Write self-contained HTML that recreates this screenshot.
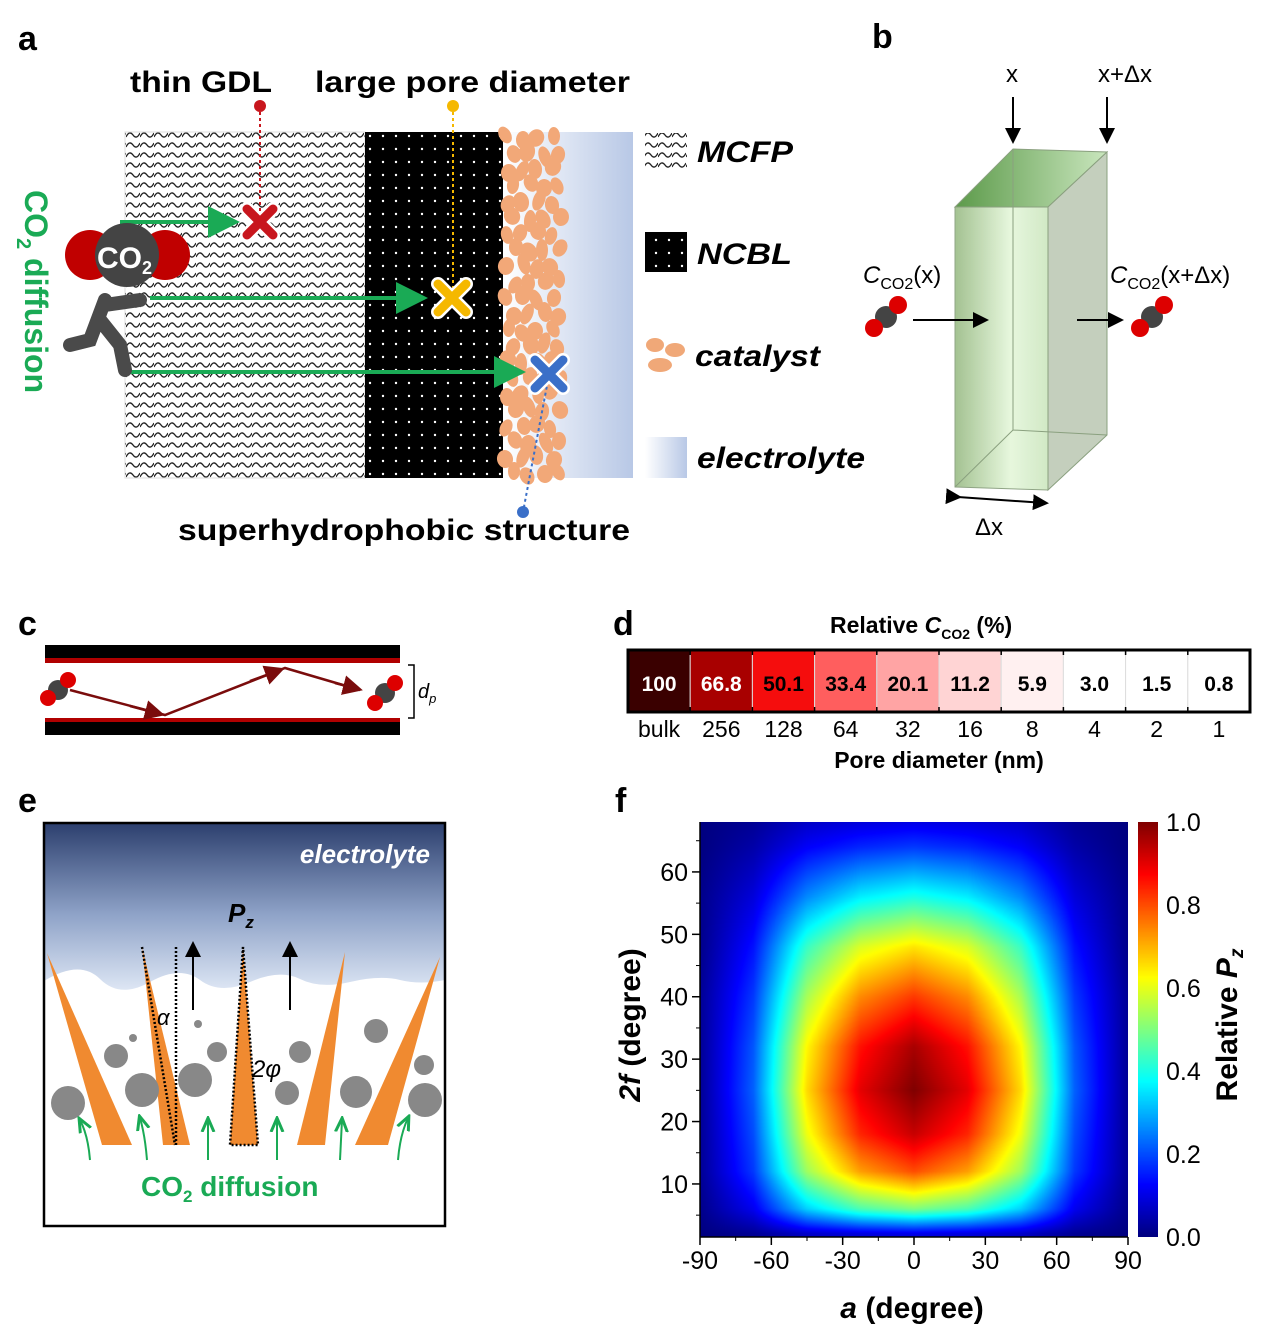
<!DOCTYPE html>
<html><head><meta charset="utf-8"><style>
html,body{margin:0;padding:0;background:#fff}
svg{display:block;font-family:"Liberation Sans",Arial,sans-serif}
</style></head><body>
<svg id="fig" width="1273" height="1342" viewBox="0 0 1273 1342" xmlns="http://www.w3.org/2000/svg">
<defs>
<pattern id="mesh" width="14" height="10" patternUnits="userSpaceOnUse">
<path d="M0 7 Q3.5 0 7 5 Q10.5 10 14 3" fill="none" stroke="#222" stroke-width="1.3"/>
</pattern>
<pattern id="dots" width="13" height="13" patternUnits="userSpaceOnUse">
<rect width="13" height="13" fill="#000"/><circle cx="6" cy="6" r="1.2" fill="#fff"/>
</pattern>
<linearGradient id="elec" x1="0" x2="1"><stop offset="0" stop-color="#fff"/><stop offset="1" stop-color="#b8c8e6"/></linearGradient>
<linearGradient id="egrad" x1="0" y1="0" x2="0" y2="1"><stop offset="0" stop-color="#2c3f6e"/><stop offset="0.55" stop-color="#8fa3c8"/><stop offset="1" stop-color="#dde6f4"/></linearGradient>
<linearGradient id="front" x1="0" x2="1"><stop offset="0" stop-color="#9fbf8c"/><stop offset="0.6" stop-color="#e6f7dc"/><stop offset="1" stop-color="#cfe8c3"/></linearGradient>
<linearGradient id="top" x1="0" x2="1"><stop offset="0" stop-color="#5c9a4a"/><stop offset="1" stop-color="#c9e6bd"/></linearGradient>
<marker id="gh" markerWidth="8" markerHeight="8" refX="6" refY="4" orient="auto"><path d="M0 0 L8 4 L0 8 z" fill="#1aaa55"/></marker>
<marker id="kh" markerWidth="8" markerHeight="8" refX="6" refY="4" orient="auto"><path d="M0 0 L8 4 L0 8 z" fill="#000"/></marker>
<marker id="rh" markerWidth="8" markerHeight="8" refX="6" refY="4" orient="auto"><path d="M0 0 L8 4 L0 8 z" fill="#7a0c0c"/></marker>
<marker id="ah" markerWidth="8" markerHeight="8" refX="6" refY="4" orient="auto"><path d="M0 1 L7 4 L0 7" fill="none" stroke="#1aaa55" stroke-width="1.5"/></marker>
</defs>

<!-- Panel a -->
<g>
<text x="18" y="50" font-size="34" font-weight="bold">a</text>
<text x="130" y="92" font-size="30" font-weight="bold" textLength="142" lengthAdjust="spacingAndGlyphs">thin GDL</text>
<text x="315" y="92" font-size="30" font-weight="bold" textLength="315" lengthAdjust="spacingAndGlyphs">large pore diameter</text>
<rect x="125" y="132" width="240" height="346" fill="url(#mesh)" stroke="#ddd"/>
<rect x="365" y="132" width="138" height="346" fill="url(#dots)"/>
<rect x="503" y="132" width="130" height="346" fill="url(#elec)"/>
<g id="flakes" fill="#f2a878"></g>
<line x1="260" y1="106" x2="260" y2="222" stroke="#c8161d" stroke-width="2" stroke-dasharray="3 3"/><circle cx="260" cy="106" r="6" fill="#c8161d"/>
<line x1="453" y1="106" x2="453" y2="298" stroke="#f5b800" stroke-width="2" stroke-dasharray="3 3"/><circle cx="453" cy="106" r="6" fill="#f5b800"/>
<line x1="549" y1="375" x2="523" y2="512" stroke="#3a6fc8" stroke-width="2" stroke-dasharray="3 3"/><circle cx="523" cy="512" r="6" fill="#3a6fc8"/>
<line x1="120" y1="222" x2="232" y2="222" stroke="#1aaa55" stroke-width="4" marker-end="url(#gh)"/>
<line x1="150" y1="298" x2="420" y2="298" stroke="#1aaa55" stroke-width="4" marker-end="url(#gh)"/>
<line x1="125" y1="372" x2="518" y2="372" stroke="#1aaa55" stroke-width="4" marker-end="url(#gh)"/>
<g stroke-linecap="round">
<path d="M247 209 L273 235 M273 209 L247 235" stroke="#fff" stroke-width="14"/><path d="M247 209 L273 235 M273 209 L247 235" stroke="#c8161d" stroke-width="9"/>
<path d="M438 284 L466 312 M466 284 L438 312" stroke="#fff" stroke-width="14"/><path d="M438 284 L466 312 M466 284 L438 312" stroke="#f5b800" stroke-width="9"/>
<path d="M535 360 L563 388 M563 360 L535 388" stroke="#fff" stroke-width="14"/><path d="M535 360 L563 388 M563 360 L535 388" stroke="#3a6fc8" stroke-width="9"/>
</g>
<g>
<path d="M105 300 L90 340 L70 345 M100 320 L120 345 L125 370 M105 305 L140 300" stroke="#4a4a4a" stroke-width="14" fill="none" stroke-linecap="round"/>
<circle cx="90" cy="255" r="25" fill="#c00000"/><circle cx="165" cy="255" r="25" fill="#c00000"/><circle cx="127" cy="255" r="32" fill="#444"/>
<text x="97" y="268" font-size="30" font-weight="bold" fill="#fff">CO<tspan font-size="18" dy="6">2</tspan></text>
</g>
<text transform="translate(25,190) rotate(90)" font-size="32" font-weight="bold" fill="#1aaa55">CO<tspan font-size="20" dy="8">2</tspan><tspan dy="-8"> diffusion</tspan></text>
<text x="178" y="540" font-size="30" font-weight="bold" textLength="452" lengthAdjust="spacingAndGlyphs">superhydrophobic structure</text>
<g>
<rect x="645" y="133" width="42" height="37" fill="url(#mesh)"/><text x="697" y="162" font-size="30" font-weight="bold" font-style="italic" textLength="96" lengthAdjust="spacingAndGlyphs">MCFP</text>
<rect x="645" y="232" width="42" height="40" fill="url(#dots)"/><text x="697" y="264" font-size="30" font-weight="bold" font-style="italic" textLength="95" lengthAdjust="spacingAndGlyphs">NCBL</text>
<g fill="#f0a878"><ellipse cx="655" cy="345" rx="9" ry="7"/><ellipse cx="675" cy="350" rx="10" ry="7"/><ellipse cx="660" cy="365" rx="12" ry="7"/></g><text x="695" y="366" font-size="30" font-weight="bold" font-style="italic" textLength="125" lengthAdjust="spacingAndGlyphs">catalyst</text>
<rect x="645" y="437" width="42" height="41" fill="url(#elec)"/><text x="697" y="468" font-size="30" font-weight="bold" font-style="italic" textLength="168" lengthAdjust="spacingAndGlyphs">electrolyte</text>
</g>
</g>

<!-- Panel b -->
<g>
<text x="872" y="48" font-size="34" font-weight="bold">b</text>
<text x="1006" y="82" font-size="24">x</text>
<text x="1098" y="82" font-size="24">x+Δx</text>
<line x1="1013" y1="97" x2="1013" y2="140" stroke="#000" stroke-width="2" marker-end="url(#kh)"/>
<line x1="1107" y1="97" x2="1107" y2="140" stroke="#000" stroke-width="2" marker-end="url(#kh)"/>
<polygon points="955,207 1013,149 1107,152 1048,207" fill="url(#top)" stroke="#8aa07f"/>
<polygon points="1048,207 1107,152 1107,435 1048,490" fill="#c4cfbd" stroke="#8aa07f"/>
<polygon points="955,207 1048,207 1048,490 955,487" fill="url(#front)" stroke="#8aa07f" opacity="0.95"/>
<path d="M1013 149 L1013 430 L1107 435 M1013 430 L955 487" fill="none" stroke="#8aa07f"/>
<line x1="958" y1="497" x2="1045" y2="503" stroke="#000" stroke-width="2" marker-end="url(#kh)" marker-start="url(#kh)"/>
<text x="975" y="535" font-size="24">Δx</text>
<text x="863" y="283" font-size="24"><tspan font-style="italic">C</tspan><tspan font-size="16" dy="6">CO2</tspan><tspan dy="-6">(x)</tspan></text>
<text x="1110" y="283" font-size="24"><tspan font-style="italic">C</tspan><tspan font-size="16" dy="6">CO2</tspan><tspan dy="-6">(x+Δx)</tspan></text>
<line x1="913" y1="320" x2="985" y2="320" stroke="#000" stroke-width="2" marker-end="url(#kh)"/>
<line x1="1077" y1="320" x2="1120" y2="320" stroke="#000" stroke-width="2" marker-end="url(#kh)"/>
<g><circle cx="886" cy="317" r="11" fill="#444"/><circle cx="874" cy="328" r="9" fill="#d00"/><circle cx="898" cy="305" r="9" fill="#d00"/></g>
<g><circle cx="1152" cy="317" r="11" fill="#444"/><circle cx="1140" cy="328" r="9" fill="#d00"/><circle cx="1164" cy="305" r="9" fill="#d00"/></g>
</g>

<!-- Panel c -->
<g>
<text x="18" y="635" font-size="34" font-weight="bold">c</text>
<rect x="45" y="645" width="355" height="13" fill="#000"/><rect x="45" y="658" width="355" height="5" fill="#b00000"/>
<rect x="45" y="718" width="355" height="4" fill="#b00000"/><rect x="45" y="722" width="355" height="13" fill="#000"/>
<path d="M70 690 L165 715 L285 668 L360 690" fill="none" stroke="#7a0c0c" stroke-width="2.5"/>
<line x1="130" y1="706" x2="160" y2="714" stroke="#7a0c0c" stroke-width="2.5" marker-end="url(#rh)"/>
<line x1="250" y1="681" x2="280" y2="670" stroke="#7a0c0c" stroke-width="2.5" marker-end="url(#rh)"/>
<line x1="335" y1="683" x2="358" y2="689" stroke="#7a0c0c" stroke-width="2.5" marker-end="url(#rh)"/>
<g><circle cx="58" cy="690" r="10" fill="#444"/><circle cx="48" cy="698" r="8" fill="#d00"/><circle cx="68" cy="680" r="8" fill="#d00"/></g>
<g><circle cx="385" cy="693" r="10" fill="#444"/><circle cx="375" cy="703" r="8" fill="#d00"/><circle cx="395" cy="683" r="8" fill="#d00"/></g>
<path d="M408 665 L414 665 L414 718 L408 718" fill="none" stroke="#000" stroke-width="1.5"/>
<text x="418" y="698" font-size="20" font-style="italic">d<tspan font-size="13" dy="5">p</tspan></text>
</g>

<!-- Panel d -->
<g id="pd">
<text x="613" y="635" font-size="34" font-weight="bold">d</text>
<text x="830" y="633" font-size="23" font-weight="bold">Relative <tspan font-style="italic">C</tspan><tspan font-size="14" dy="6">CO2</tspan><tspan dy="-6"> (%)</tspan></text>
<g id="dcells"></g>
<rect x="628" y="650" width="622" height="62" fill="none" stroke="#000" stroke-width="3"/>
<g id="dlabels"></g>
<text x="939" y="768" font-size="23" font-weight="bold" text-anchor="middle">Pore diameter (nm)</text>
</g>

<!-- Panel e -->
<g>
<text x="18" y="812" font-size="34" font-weight="bold">e</text>
<rect x="44" y="823" width="401" height="403" fill="#fff"/>
<path d="M44 823 H445 V980 Q420 985 400 980 T350 982 T300 979 T250 982 T200 980 T150 982 T100 979 T44 981 Z" fill="url(#egrad)"/>
<text x="430" y="863" font-size="26" font-weight="bold" font-style="italic" fill="#fff" text-anchor="end">electrolyte</text>
<g fill="#f08a30">
<polygon points="47,953 102,1145 132,1145"/>
<polygon points="142,947 163,1145 190,1145"/>
<polygon points="243,947 230,1145 258,1145"/>
<polygon points="345,952 297,1145 325,1145"/>
<polygon points="440,957 355,1145 388,1145"/>
</g>
<path d="M142 947 L175 1145 M176 947 L176 1145 M243 947 L230 1145 L258 1145 Z" fill="none" stroke="#000" stroke-width="2.5" stroke-dasharray="2 2"/>
<g fill="#888">
<circle cx="68" cy="1103" r="17"/><circle cx="142" cy="1090" r="17"/><circle cx="195" cy="1080" r="17"/><circle cx="116" cy="1056" r="12"/>
<circle cx="217" cy="1052" r="10"/><circle cx="287" cy="1093" r="12"/><circle cx="300" cy="1052" r="11"/><circle cx="356" cy="1092" r="16"/>
<circle cx="376" cy="1031" r="12"/><circle cx="425" cy="1100" r="17"/><circle cx="424" cy="1065" r="10"/><circle cx="133" cy="1038" r="4"/><circle cx="198" cy="1024" r="4"/>
</g>
<line x1="193" y1="1010" x2="193" y2="945" stroke="#000" stroke-width="2" marker-end="url(#kh)"/>
<line x1="290" y1="1010" x2="290" y2="945" stroke="#000" stroke-width="2" marker-end="url(#kh)"/>
<text x="228" y="922" font-size="26" font-weight="bold" font-style="italic">P<tspan font-size="17" dy="6">z</tspan></text>
<text x="157" y="1025" font-size="22" font-style="italic">α</text>
<text x="252" y="1077" font-size="24" font-style="italic">2φ</text>
<g fill="none" stroke="#1aaa55" stroke-width="2">
<path d="M90 1160 Q88 1135 80 1120" marker-end="url(#ah)"/><path d="M147 1160 Q145 1135 140 1118" marker-end="url(#ah)"/>
<path d="M208 1160 L208 1120" marker-end="url(#ah)"/><path d="M277 1160 L277 1120" marker-end="url(#ah)"/>
<path d="M340 1160 L342 1120" marker-end="url(#ah)"/><path d="M398 1160 Q400 1135 408 1118" marker-end="url(#ah)"/>
</g>
<text x="141" y="1196" font-size="28" font-weight="bold" fill="#1aaa55">CO<tspan font-size="17" dy="6">2</tspan><tspan dy="-6"> diffusion</tspan></text>
<rect x="44" y="823" width="401" height="403" fill="none" stroke="#000" stroke-width="2.5"/>
</g>

<!-- Panel f -->
<g>
<text x="615" y="812" font-size="34" font-weight="bold">f</text>
<foreignObject x="700" y="822" width="428" height="415"><canvas xmlns="http://www.w3.org/1999/xhtml" id="hm" width="428" height="415" style="display:block"></canvas></foreignObject>
<foreignObject x="1138" y="822" width="20" height="415"><canvas xmlns="http://www.w3.org/1999/xhtml" id="cb" width="20" height="415" style="display:block"></canvas></foreignObject>
<g id="faxes" font-size="25"></g>
<text x="912" y="1318" font-size="30" font-weight="bold" text-anchor="middle"><tspan font-style="italic">a</tspan> (degree)</text>
<text transform="translate(640,1025) rotate(-90)" font-size="30" font-weight="bold" text-anchor="middle"><tspan font-style="italic">2f</tspan>  (degree)</text>
<text transform="translate(1237,1025) rotate(-90)" font-size="30" font-weight="bold" text-anchor="middle">Relative <tspan font-style="italic">P</tspan><tspan font-size="19" font-style="italic" dy="6">z</tspan></text>
</g>
</svg>
<script>
// Panel d data
const poreLabels=["bulk","256","128","64","32","16","8","4","2","1"];
const relC=[100,66.8,50.1,33.4,20.1,11.2,5.9,3.0,1.5,0.8];
const relCText=["100","66.8","50.1","33.4","20.1","11.2","5.9","3.0","1.5","0.8"];
// Panel f data
const alphas=[-90,-67.5,-45,-22.5,0,22.5,45,67.5,90];
const phis=[2,6,12,18,25,32,40,48,56,64,68];
const pz=[
[0.00,0.02,0.07,0.09,0.10,0.09,0.07,0.02,0.00],
[0.01,0.11,0.33,0.45,0.50,0.45,0.33,0.11,0.01],
[0.02,0.18,0.53,0.72,0.80,0.72,0.53,0.18,0.02],
[0.02,0.20,0.61,0.84,0.93,0.84,0.61,0.20,0.02],
[0.02,0.22,0.66,0.90,1.00,0.90,0.66,0.22,0.02],
[0.02,0.21,0.63,0.86,0.96,0.86,0.63,0.21,0.02],
[0.02,0.18,0.54,0.74,0.82,0.74,0.54,0.18,0.02],
[0.01,0.14,0.43,0.59,0.65,0.59,0.43,0.14,0.01],
[0.01,0.09,0.26,0.36,0.40,0.36,0.26,0.09,0.01],
[0.00,0.04,0.12,0.16,0.18,0.16,0.12,0.04,0.00],
[0.00,0.02,0.07,0.09,0.10,0.09,0.07,0.02,0.00]];
const xTicks=[-90,-60,-30,0,30,60,90];
const yTicks=[10,20,30,40,50,60];
const cbTicks=["0.0","0.2","0.4","0.6","0.8","1.0"];

const NS="http://www.w3.org/2000/svg";
function mk(tag,attrs,parent){const e=document.createElementNS(NS,tag);for(const k in attrs)e.setAttribute(k,attrs[k]);parent.appendChild(e);return e;}

// catalyst flakes (decorative)
const fl=document.getElementById('flakes');
for(let r=0;r<22;r++){for(let c=0;c<4;c++){
  const x=507+c*15+((r%2)?7:0)+((r*7+c*3)%5)-2, y=138+r*16+((r*3+c*5)%7)-3;
  if(x>568)continue;
  mk('ellipse',{cx:x,cy:y,rx:6+((r+c)%3),ry:9+((r*c)%3),transform:"rotate("+(((r*13+c*29)%60)-30)+" "+x+" "+y+")"},fl);
}}

// d strip
const dX0=628,dW=622,dY=650,dH=62;
const cw=dW/relC.length;
function redScale(v){
  if(v>=90) return "rgb(58,0,0)";
  if(v>=60){const r=Math.round(200-(v-60)/30*142);return "rgb("+r+",0,0)";}
  if(v>=48){const t=(v-48)/12;return "rgb("+Math.round(255-t*55)+","+Math.round(16*(1-t))+","+Math.round(16*(1-t))+")";}
  const g=Math.round(Math.min(255,16+255*(1-v/48)));
  return "rgb(255,"+g+","+g+")";
}
const dc=document.getElementById('dcells'),dl=document.getElementById('dlabels');
relC.forEach((v,i)=>{
  const r=mk('rect',{x:dX0+i*cw,y:dY,width:cw,height:dH,fill:redScale(v),stroke:"#ddd","stroke-width":1},dc);
  
  
  const t=mk('text',{x:dX0+(i+0.5)*cw,y:dY+41,"font-size":21,"font-weight":"bold","text-anchor":"middle",fill:v>60?"#fff":"#000"},dc);
  t.textContent=relCText[i];
  
  
  const l=mk('text',{x:dX0+(i+0.5)*cw,y:dY+87,"font-size":23,"text-anchor":"middle"},dl);
  l.textContent=poreLabels[i];
  
  
  if(i>0){mk('line',{x1:dX0+i*cw,y1:dY,x2:dX0+i*cw,y2:dY+5,stroke:"#000","stroke-width":1.5},dc);mk('line',{x1:dX0+i*cw,y1:dY+dH-5,x2:dX0+i*cw,y2:dY+dH,stroke:"#000","stroke-width":1.5},dc);}
});

// f axes
const fx0=700,fx1=1128,fy0=822,fy1=1237,aMin=-90,aMax=90,pMin=1.5,pMax=68;
const xs=a=>fx0+(a-aMin)/(aMax-aMin)*(fx1-fx0);
const ys=p=>fy1-(p-pMin)/(pMax-pMin)*(fy1-fy0);
function jet(v){v=Math.max(0,Math.min(1,v));
  const r=Math.max(0,Math.min(1,1.5-Math.abs(4*v-3)));
  const g=Math.max(0,Math.min(1,1.5-Math.abs(4*v-2)));
  const b=Math.max(0,Math.min(1,1.5-Math.abs(4*v-1)));
  return [r*255,g*255,b*255];}
function interp(arr,v){
  if(v<=arr[0])return 0; for(let i=0;i<arr.length-1;i++){if(v<=arr[i+1])return i+(v-arr[i])/(arr[i+1]-arr[i]);} return arr.length-1;}
function sample(a,p){
  const fi=interp(alphas,a),fj=interp(phis,p);
  const i0=Math.floor(fi),j0=Math.floor(fj),i1=Math.min(i0+1,alphas.length-1),j1=Math.min(j0+1,phis.length-1);
  const ti=fi-i0,tj=fj-j0;
  return (pz[j0][i0]*(1-ti)+pz[j0][i1]*ti)*(1-tj)+(pz[j1][i0]*(1-ti)+pz[j1][i1]*ti)*tj;}
const cv=document.getElementById('hm'),ctx=cv.getContext('2d');
const W=cv.width,H=cv.height,img=ctx.createImageData(W,H);
for(let y=0;y<H;y++){const p=pMax-(y+0.5)/H*(pMax-pMin);
  for(let x=0;x<W;x++){const a=aMin+(x+0.5)/W*(aMax-aMin);
    const c=jet(sample(a,p));const k=(y*W+x)*4;img.data[k]=c[0];img.data[k+1]=c[1];img.data[k+2]=c[2];img.data[k+3]=255;}}
ctx.putImageData(img,0,0);
const cb=document.getElementById('cb'),cc=cb.getContext('2d');
for(let y=0;y<cb.height;y++){const c=jet(1-y/(cb.height-1));cc.fillStyle="rgb("+c.map(Math.round).join(",")+")";cc.fillRect(0,y,20,1);}
const fa=document.getElementById('faxes');
mk('line',{x1:fx0,y1:fy1,x2:fx1,y2:fy1,stroke:"#000","stroke-width":1.5},fa);
mk('line',{x1:fx0,y1:fy0,x2:fx0,y2:fy1,stroke:"#000","stroke-width":1.5},fa);
xTicks.forEach(v=>{const x=xs(v);mk('line',{x1:x,y1:fy1,x2:x,y2:fy1+8,stroke:"#000","stroke-width":1.5},fa);
  const t=mk('text',{x:x,y:fy1+32,"text-anchor":"middle"},fa);t.textContent=String(v);
  
  });
xTicks.slice(0,-1).forEach(v=>{const x=xs(v+15);mk('line',{x1:x,y1:fy1,x2:x,y2:fy1+4,stroke:"#000"},fa);});
yTicks.forEach(v=>{const y=ys(v);mk('line',{x1:fx0-8,y1:y,x2:fx0,y2:y,stroke:"#000","stroke-width":1.5},fa);
  const t=mk('text',{x:fx0-12,y:y+9,"text-anchor":"end"},fa);t.textContent=String(v);
  
  
  mk('line',{x1:fx0-4,y1:ys(v-5),x2:fx0,y2:ys(v-5),stroke:"#000"},fa);});
mk('line',{x1:fx0-4,y1:ys(65),x2:fx0,y2:ys(65),stroke:"#000"},fa);
cbTicks.forEach((s,i)=>{const y=fy1-i/(cbTicks.length-1)*(fy1-fy0);
  const t=mk('text',{x:1166,y:y+9},fa);t.textContent=s;
  
  });
</script>
</body></html>
